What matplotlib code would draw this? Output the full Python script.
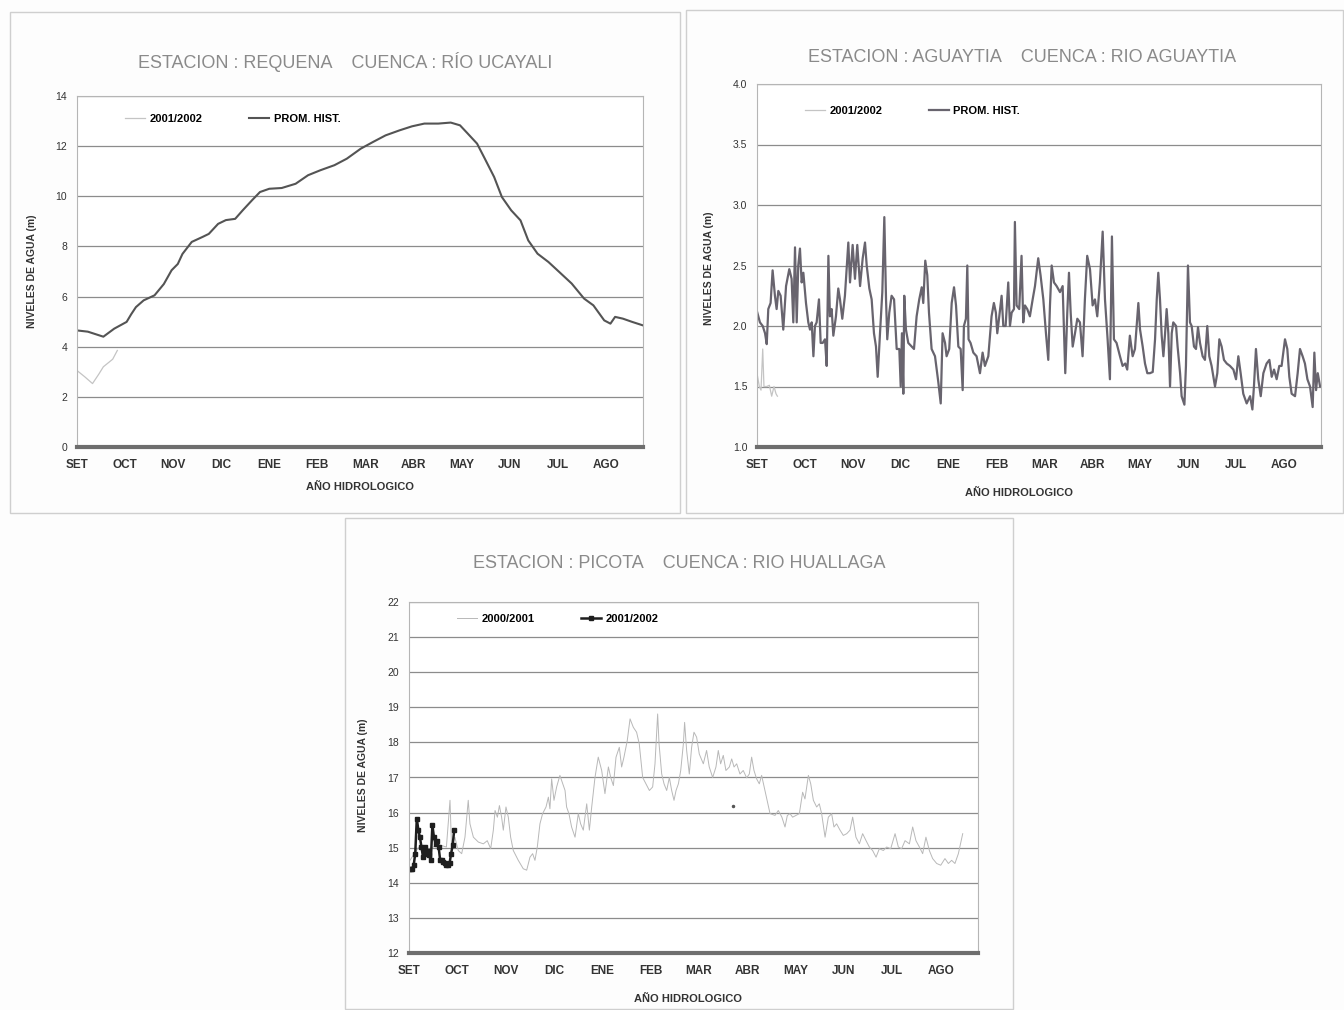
import numpy as np
import matplotlib
matplotlib.use("Agg")
import matplotlib.pyplot as plt
from matplotlib.patches import Rectangle

plt.rcParams['font.family'] = ['Liberation Sans', 'DejaVu Sans']

# month labels of the hydrological year (one label every 31 days)
months = ['SET', 'OCT', 'NOV', 'DIC', 'ENE', 'FEB', 'MAR', 'ABR', 'MAY', 'JUN', 'JUL', 'AGO']
month_days = [0, 31, 62, 93, 124, 155, 186, 217, 248, 279, 310, 341]

# --- Requena / Rio Ucayali ---
req_prom_day = [0, 7, 11, 17, 24, 32, 35, 38, 43, 50, 56, 61, 65, 68, 74, 81, 85, 91, 96, 102,
                107, 113, 118, 124, 132, 141, 149, 157, 166, 174, 183, 191, 199, 208, 216, 224,
                233, 241, 247, 252, 258, 263, 269, 274, 280, 286, 291, 297, 304, 311, 319, 327,
                333, 340, 344, 347, 352, 358, 365]
req_prom = [4.65, 4.6, 4.52, 4.4, 4.72, 4.99, 5.3, 5.58, 5.85, 6.05, 6.5, 7.05, 7.3, 7.7, 8.18,
            8.38, 8.5, 8.9, 9.05, 9.1, 9.45, 9.85, 10.17, 10.3, 10.33, 10.5, 10.84, 11.04, 11.24,
            11.5, 11.9, 12.17, 12.43, 12.63, 12.79, 12.9, 12.9, 12.94, 12.83, 12.5, 12.1, 11.5,
            10.77, 9.97, 9.44, 9.04, 8.24, 7.71, 7.38, 6.98, 6.52, 5.92, 5.65, 5.05, 4.92, 5.19,
            5.12, 4.99, 4.85]
req_now_day = [0, 5, 10, 14, 17, 20, 23, 26]
req_now = [3.05, 2.8, 2.53, 2.9, 3.2, 3.35, 3.5, 3.85]

# --- Aguaytia / Rio Aguaytia ---
agu_day = [0, 1.9, 3.7, 5.2, 6.3, 7.3, 8.8, 10.1, 11.6, 12.7, 13.8, 15.3, 17.0, 18.8, 20.9, 22.4,
           23.5, 24.6, 25.7, 26.7, 27.8, 28.9, 30.0, 31.7, 33.2, 34.3, 35.4, 36.5, 37.5, 38.6,
           40.1, 41.2, 42.5, 44.0, 45.1, 46.2, 47.2, 48.3, 49.4, 51.1, 52.6, 53.7, 55.2, 56.9,
           59.1, 60.2, 61.9, 63.4, 64.9, 66.7, 68.4, 69.9, 71.0, 72.7, 74.2, 75.7, 77.0, 78.1,
           79.6, 81.1, 82.4, 83.5, 84.3, 85.6, 87.1, 88.7, 90.4, 92.1, 93.0, 93.8, 94.7, 95.3,
           96.4, 97.9, 100.1, 101.6, 103.3, 105.0, 106.6, 107.6, 108.9, 110.2, 111.3, 113.0,
           115.2, 117.3, 118.9, 120.1, 121.7, 122.7, 124.4, 126.0, 127.5, 128.8, 130.3, 131.8,
           133.1, 133.9, 135.2, 136.1, 136.9, 138.2, 140.0, 142.1, 144.3, 146.0, 147.5, 149.7,
           151.8, 153.3, 154.6, 155.5, 156.8, 158.3, 159.4, 160.9, 162.6, 163.7, 164.8, 166.3,
           166.9, 168.0, 169.7, 171.2, 172.3, 173.4, 174.9, 176.6, 178.4, 179.9, 182.0, 183.5,
           185.3, 187.0, 188.5, 189.6, 190.7, 192.2, 193.9, 196.1, 197.8, 198.6, 199.5, 200.8,
           201.9, 203.0, 204.3, 205.8, 207.3, 209.0, 210.7, 212.2, 213.7, 215.5, 217.2, 218.7,
           220.2, 221.9, 223.7, 225.2, 226.9, 228.4, 229.7, 231.0, 232.7, 234.9, 236.6, 238.3,
           239.6, 241.3, 243.1, 244.6, 245.7, 246.8, 247.9, 249.6, 251.1, 252.6, 254.3, 256.1,
           257.6, 258.7, 259.7, 260.8, 261.9, 263.0, 264.1, 265.1, 266.2, 267.3, 268.4, 269.4,
           271.2, 272.2, 273.8, 274.8, 276.6, 277.6, 278.9, 280.2, 281.3, 282.8, 284.1, 285.4,
           286.7, 288.4, 289.9, 291.4, 292.7, 294.2, 296.4, 297.9, 299.2, 300.7, 302.2, 304.0,
           306.1, 308.3, 310.0, 311.5, 313.0, 314.7, 316.9, 319.1, 320.6, 321.6, 322.9, 324.4,
           326.0, 327.7, 329.8, 331.6, 333.1, 334.6, 336.3, 338.0, 339.5, 341.7, 343.2, 344.5,
           346.0, 348.2, 349.9, 351.4, 353.1, 354.6, 356.2, 357.9, 359.6, 360.7, 361.8, 362.9,
           364.4]
agu_prom = [2.12, 2.03, 2.00, 1.94, 1.85, 2.14, 2.19, 2.46, 2.25, 2.14, 2.29, 2.25, 1.97, 2.33,
            2.47, 2.39, 2.03, 2.65, 2.03, 2.50, 2.64, 2.36, 2.44, 2.19, 2.03, 1.97, 2.03, 1.75,
            2.00, 2.03, 2.22, 1.86, 1.86, 1.89, 1.67, 2.58, 2.08, 2.14, 1.92, 2.08, 2.31, 2.22,
            2.06, 2.25, 2.69, 2.36, 2.67, 2.39, 2.67, 2.33, 2.56, 2.69, 2.50, 2.31, 2.22, 1.94,
            1.83, 1.58, 1.94, 2.28, 2.90, 2.22, 1.89, 2.11, 2.25, 2.22, 1.81, 1.81, 1.50, 1.94,
            1.44, 2.25, 1.97, 1.86, 1.83, 1.81, 2.08, 2.22, 2.32, 2.19, 2.54, 2.42, 2.11, 1.81,
            1.75, 1.54, 1.36, 1.94, 1.86, 1.75, 1.81, 2.19, 2.32, 2.17, 1.83, 1.81, 1.47, 2.00,
            2.06, 2.50, 1.89, 1.86, 1.78, 1.75, 1.61, 1.78, 1.67, 1.75, 2.08, 2.19, 2.11, 1.94,
            2.08, 2.25, 2.00, 2.00, 2.36, 2.00, 2.11, 2.14, 2.86, 2.17, 2.14, 2.58, 2.03, 2.17,
            2.14, 2.08, 2.22, 2.33, 2.56, 2.42, 2.22, 1.94, 1.72, 2.17, 2.50, 2.36, 2.33, 2.28,
            2.33, 2.00, 1.61, 2.11, 2.44, 2.11, 1.83, 1.94, 2.06, 2.03, 1.75, 2.22, 2.58, 2.47,
            2.17, 2.22, 2.08, 2.36, 2.78, 2.22, 1.89, 1.56, 2.74, 1.89, 1.86, 1.75, 1.67, 1.69,
            1.64, 1.92, 1.75, 1.81, 2.00, 2.19, 1.97, 1.83, 1.69, 1.61, 1.61, 1.62, 1.89, 2.22,
            2.44, 2.22, 1.92, 1.75, 1.94, 2.14, 1.94, 1.50, 1.94, 2.03, 2.00, 1.83, 1.61, 1.42,
            1.35, 1.67, 2.50, 2.03, 2.00, 1.83, 1.81, 1.99, 1.86, 1.75, 1.72, 2.00, 1.75, 1.67,
            1.50, 1.61, 1.89, 1.83, 1.72, 1.69, 1.67, 1.64, 1.56, 1.75, 1.61, 1.44, 1.36, 1.42,
            1.31, 1.50, 1.81, 1.56, 1.42, 1.61, 1.69, 1.72, 1.58, 1.64, 1.56, 1.67, 1.67, 1.89,
            1.81, 1.58, 1.44, 1.42, 1.61, 1.81, 1.75, 1.69, 1.56, 1.50, 1.33, 1.78, 1.47, 1.61,
            1.50]
agu_now_day = [0, 1.5, 2.6, 3.7, 4.5, 6.3, 8.0, 9.5, 11.0, 12.3, 13.2]
agu_now = [1.61, 1.50, 1.47, 1.81, 1.50, 1.50, 1.51, 1.42, 1.50, 1.44, 1.42]

# --- Picota / Rio Huallaga ---
pic_0001_day = [0, 6, 12, 18, 24, 26.3, 27.3, 29.4, 31.6, 33.8, 35.9, 38.0, 39.1, 41.3, 44.5,
                47.7, 50.2, 52.4, 54.1, 55.2, 56.7, 58.0, 59.4, 60.5, 62.2, 63.7, 65.2, 66.9,
                70.1, 73.3, 75.5, 77.6, 79.3, 80.8, 82.3, 84.0, 85.7, 87.9, 89.4, 90.4, 91.5,
                93.0, 94.7, 96.8, 98.6, 100.1, 101.1, 102.6, 104.3, 106.5, 108.6, 110.1, 111.8,
                114.0, 115.7, 117.2, 119.3, 121.4, 123.6, 125.7, 127.9, 129.4, 131.1, 132.8,
                134.9, 136.4, 137.9, 140.0, 141.8, 143.9, 146.0, 147.7, 149.9, 152.0, 154.2,
                156.3, 157.8, 159.5, 160.4, 162.1, 163.6, 165.3, 167.0, 168.5, 170.0, 171.3,
                172.8, 174.3, 176.0, 176.8, 178.1, 179.8, 181.3, 182.8, 184.5, 186.2, 188.8,
                190.9, 192.6, 194.8, 196.9, 198.4, 199.9, 201.6, 203.3, 205.5, 207.0, 208.5,
                210.2, 212.3, 214.4, 216.6, 218.3, 219.8, 221.3, 223.0, 224.7, 226.2, 231.6,
                234.8, 236.9, 239.2, 241.2, 242.7, 244.4, 246.1, 248.3, 250.4, 252.5, 254.0,
                256.2, 257.7, 259.4, 261.5, 263.2, 264.7, 266.9, 269.0, 271.1, 272.6, 274.3,
                276.5, 278.6, 280.8, 282.9, 284.6, 286.7, 288.9, 291.0, 293.2, 295.3, 297.4,
                299.6, 301.7, 304.3, 306.4, 309.0, 311.8, 313.9, 316.0, 318.2, 321.0, 323.1,
                325.2, 327.4, 329.5, 331.6, 333.8, 335.9, 338.5, 341.1, 343.8, 346.0, 348.1,
                350.2, 352.4, 355.2]
pic_0001 = [14.6, 15.0, 14.9, 15.1, 15.02, 16.35, 15.02, 15.3, 14.92, 14.83, 15.3, 16.35, 15.68,
            15.3, 15.16, 15.11, 15.2, 14.97, 15.5, 16.06, 15.87, 16.2, 15.87, 15.5, 16.16, 15.87,
            15.3, 14.92, 14.64, 14.4, 14.36, 14.73, 14.83, 14.64, 15.02, 15.68, 15.97, 16.16,
            16.44, 16.11, 16.96, 16.35, 16.73, 17.06, 16.82, 16.63, 16.16, 15.97, 15.59, 15.3,
            15.97, 15.68, 15.5, 16.25, 15.5, 16.16, 17.0, 17.58, 17.2, 16.54, 17.3, 17.0, 16.77,
            17.58, 17.86, 17.3, 17.58, 18.05, 18.67, 18.43, 18.29, 17.96, 17.0, 16.82, 16.63,
            16.73, 17.39, 18.81, 17.96, 17.1, 16.82, 16.63, 17.0, 16.63, 16.35, 16.63, 16.82,
            17.2, 17.96, 18.57, 17.77, 17.1, 17.86, 18.29, 18.15, 17.67, 17.39, 17.77, 17.3,
            17.0, 17.3, 17.77, 17.39, 17.63, 17.2, 17.3, 17.53, 17.3, 17.39, 17.1, 17.2, 16.99,
            17.1, 17.58, 17.2, 16.96, 16.82, 17.06, 15.97, 15.92, 16.06, 15.87, 15.59, 15.92,
            15.97, 15.87, 15.92, 15.97, 16.58, 16.39, 17.06, 16.82, 16.35, 16.16, 16.25, 15.97,
            15.3, 15.87, 15.97, 15.59, 15.68, 15.5, 15.35, 15.4, 15.5, 15.87, 15.3, 15.11, 15.4,
            15.2, 15.02, 14.92, 14.73, 14.97, 14.92, 15.02, 14.97, 15.4, 15.02, 14.97, 15.2,
            15.11, 15.59, 15.2, 15.02, 14.83, 15.3, 14.92, 14.69, 14.55, 14.5, 14.69, 14.55,
            14.64, 14.55, 14.83, 15.4]
pic_0102_day = [0, 1, 2, 3, 4, 5, 6, 7, 8, 9, 10, 11, 12, 13, 14, 15, 16, 17, 18, 19, 20, 21,
                22, 23, 24, 25, 26, 27, 28, 29]
pic_0102 = [14.4, 14.38, 14.4, 14.5, 14.83, 15.83, 15.5, 15.3, 15.02, 14.73, 15.02, 14.83,
            14.92, 14.78, 14.64, 15.64, 15.3, 15.11, 15.2, 15.02, 14.64, 14.64, 14.6, 14.55,
            14.5, 14.5, 14.55, 14.83, 15.07, 15.5]
pic_dot_day = [207.8]
pic_dot = [16.19]

fig = plt.figure(figsize=(13.44, 10.10), dpi=100)
fig.patch.set_facecolor('#fdfdfd')

# light frames around each chart
for x0, y0, x1, y1 in [(10, 12, 680, 513), (686, 10, 1343, 513), (345, 518, 1013, 1009)]:
    fig.add_artist(Rectangle((x0 / 1344, 1 - y1 / 1010), (x1 - x0) / 1344, (y1 - y0) / 1010,
                             transform=fig.transFigure, fill=False, edgecolor='#cfcfcf', lw=1))


def setup_axis(ax, ylim, yticks, yfmt, xlab_xy, ylab_xy):
    ax.set_xlim(0, 365)
    ax.set_ylim(*ylim)
    ax.set_xticks(month_days)
    ax.set_xticklabels(months, fontsize=8.5, fontweight='bold', color='#333333')
    ax.set_yticks(yticks)
    ax.set_yticklabels([yfmt.format(v) for v in yticks], fontsize=7.5, color='#333333')
    ax.tick_params(axis='x', length=0, pad=9)
    ax.tick_params(axis='y', length=0, pad=7)
    ax.grid(True, axis='y', color='#8c8c8c', lw=0.9)
    ax.set_axisbelow(True)
    for s in ['top', 'right', 'left']:
        ax.spines[s].set_color('#b5b5b5')
        ax.spines[s].set_linewidth(0.8)
    ax.spines['bottom'].set_color('#6e6e6e')
    ax.spines['bottom'].set_linewidth(3)
    ax.set_xlabel('AÑO HIDROLOGICO', fontsize=8, fontweight='bold', color='#333333')
    ax.set_ylabel('NIVELES DE AGUA (m)', fontsize=7.5, fontweight='bold', color='#333333')
    ax.xaxis.set_label_coords(*xlab_xy)
    ax.yaxis.set_label_coords(*ylab_xy)


title_kw = dict(fontsize=13, color='#8a8a8a', ha='center', va='center')
legend_kw = dict(frameon=False, ncol=2, handlelength=1.8, handletextpad=0.4,
                 columnspacing=4.2, borderpad=0, loc='center left',
                 prop={'size': 8, 'weight': 'bold'})

# chart 1
ax1 = fig.add_axes([77 / 1344, 1 - 447 / 1010, 566 / 1344, 351 / 1010])
setup_axis(ax1, (0, 14), [0, 2, 4, 6, 8, 10, 12, 14], '{:d}', (0.5, -0.100), (-0.071, 0.5))
ax1.plot(req_now_day, req_now, color='#c4c4c4', lw=0.9, label='2001/2002')
ax1.plot(req_prom_day, req_prom, color='#545454', lw=1.5, label='PROM. HIST.')
ax1.legend(bbox_to_anchor=(0.075, 0.934), **legend_kw)
fig.text(345 / 1344, 1 - 62 / 1010, 'ESTACION : REQUENA    CUENCA : RÍO UCAYALI', **title_kw)

# chart 2
ax2 = fig.add_axes([757 / 1344, 1 - 447 / 1010, 564 / 1344, 363 / 1010])
setup_axis(ax2, (1.0, 4.0), [1.0, 1.5, 2.0, 2.5, 3.0, 3.5, 4.0], '{:.1f}', (0.465, -0.113), (-0.076, 0.493))
ax2.plot(agu_now_day, agu_now, color='#c4c4c4', lw=0.9, label='2001/2002')
ax2.plot(agu_day, agu_prom, color='#68646e', lw=1.6, label='PROM. HIST.')
ax2.legend(bbox_to_anchor=(0.075, 0.926), **legend_kw)
fig.text(1022 / 1344, 1 - 57 / 1010, 'ESTACION : AGUAYTIA    CUENCA : RIO AGUAYTIA', **title_kw)

# chart 3
ax3 = fig.add_axes([409 / 1344, 1 - 953 / 1010, 569 / 1344, 351 / 1010])
setup_axis(ax3, (12, 22), list(range(12, 23)), '{:d}', (0.49, -0.117), (-0.072, 0.507))
ax3.plot(pic_0001_day, pic_0001, color='#b8b8b8', lw=0.7, label='2000/2001')
ax3.plot(pic_0102_day, pic_0102, color='#1e1e1e', lw=1.8, marker='s', ms=3.5, label='2001/2002')
ax3.plot(pic_dot_day, pic_dot, ls='none', marker='o', ms=1.5, color='#555555')
ax3.legend(handles=ax3.get_lines()[:2], bbox_to_anchor=(0.075, 0.952), **legend_kw)
fig.text(679 / 1344, 1 - 564 / 1010, 'ESTACION : PICOTA    CUENCA : RIO HUALLAGA', **title_kw)

fig.savefig('out.png', dpi=100, facecolor=fig.get_facecolor())
